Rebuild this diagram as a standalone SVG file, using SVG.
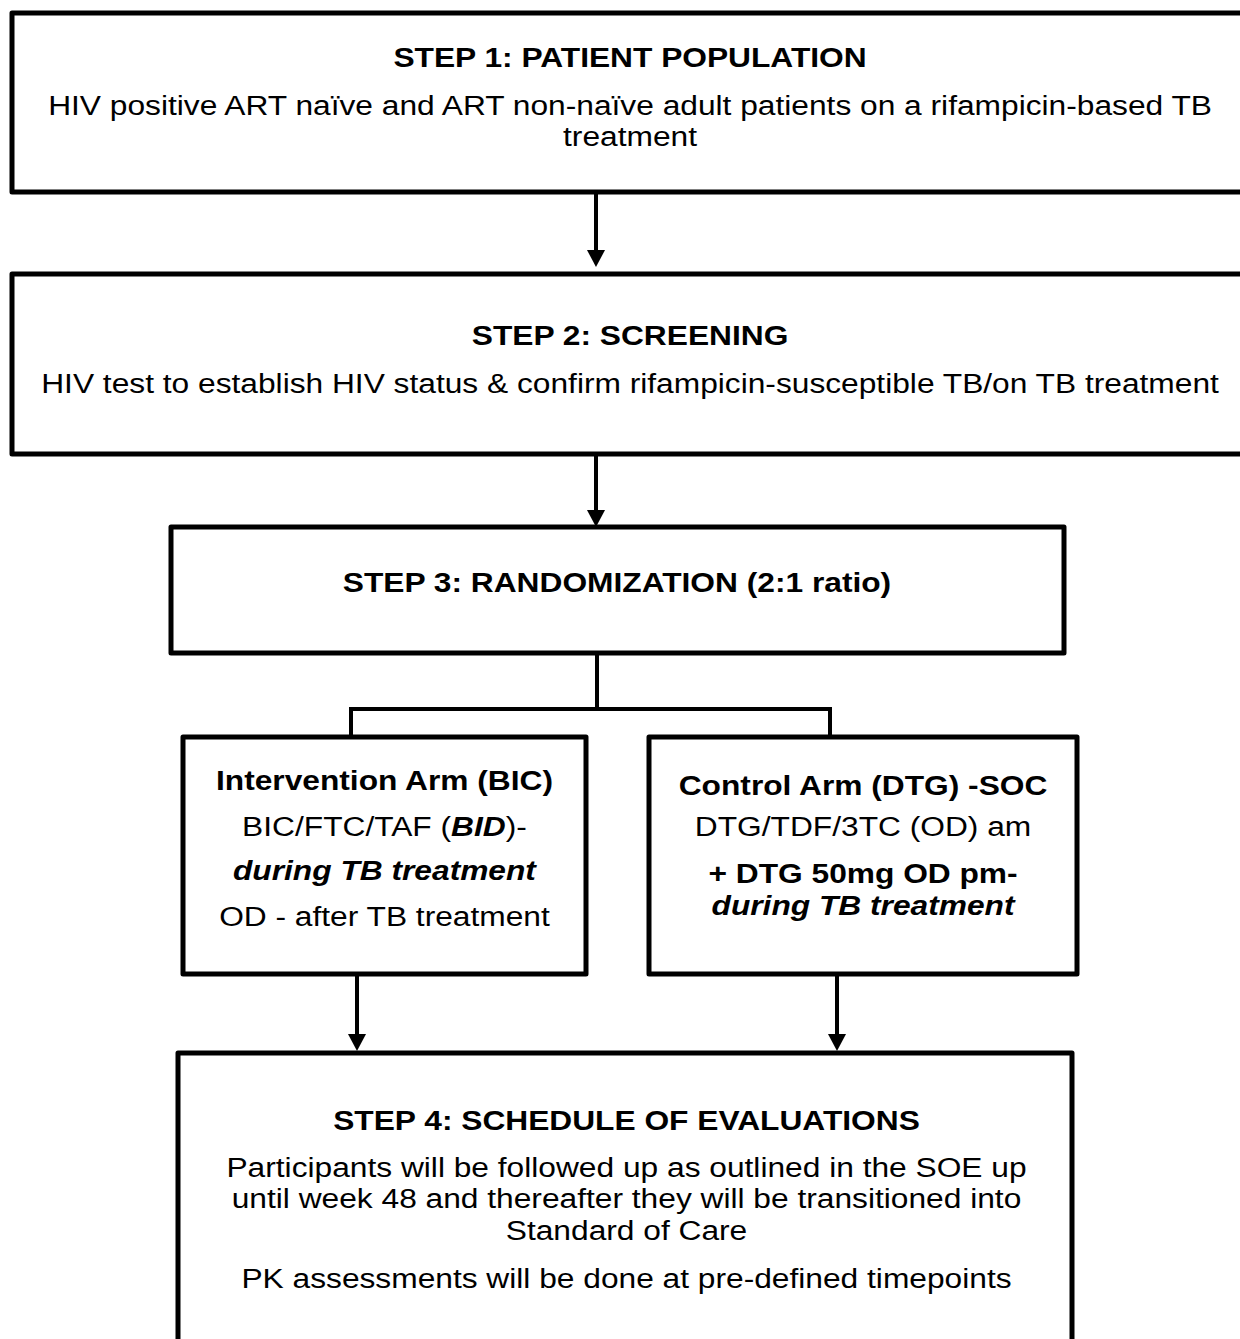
<svg xmlns="http://www.w3.org/2000/svg" width="1240" height="1339" viewBox="0 0 1240 1339">
<defs>
<style>
.box{fill:#fff;stroke:#000;stroke-width:5;stroke-linejoin:round}
.conn{fill:none;stroke:#000;stroke-width:4}
.ah{fill:#000}
text{font-family:"Liberation Sans",Arial,sans-serif;font-size:27px;fill:#000;text-anchor:middle}
.b{font-weight:bold}
.bi{font-weight:bold;font-style:italic}
</style>
</defs>
<rect width="1240" height="1339" fill="#fff"/>
<g id="connectors">
<line class="conn" x1="596" y1="192" x2="596" y2="252"/>
<polygon class="ah" points="587,250 605,250 596,267"/>
<line class="conn" x1="596" y1="454" x2="596" y2="512"/>
<polygon class="ah" points="587,510 605,510 596,527"/>
<polyline class="conn" points="597,653 597,709"/>
<polyline class="conn" points="351,737 351,709 830,709 830,737"/>
<line class="conn" x1="357" y1="974" x2="357" y2="1036"/>
<polygon class="ah" points="348,1034 366,1034 357,1051"/>
<line class="conn" x1="837" y1="974" x2="837" y2="1036"/>
<polygon class="ah" points="828,1034 846,1034 837,1051"/>
</g>
<g id="step1">
<rect class="box" x="12" y="13" width="1240" height="179"/>
<g transform="scale(1.175 1)">
<text class="b" x="536.2" y="67">STEP 1: PATIENT POPULATION</text>
<text x="536.2" y="115">HIV positive ART naïve and ART non-naïve adult patients on a rifampicin-based TB</text>
<text x="536.2" y="146">treatment</text>
</g>
</g>
<g id="step2">
<rect class="box" x="12" y="274" width="1240" height="180"/>
<g transform="scale(1.175 1)">
<text class="b" x="536.2" y="345">STEP 2: SCREENING</text>
<text x="536.2" y="393">HIV test to establish HIV status &amp; confirm rifampicin-susceptible TB/on TB treatment</text>
</g>
</g>
<g id="step3">
<rect class="box" x="171" y="527" width="893" height="126"/>
<g transform="scale(1.175 1)">
<text class="b" x="525.1" y="592">STEP 3: RANDOMIZATION (2:1 ratio)</text>
</g>
</g>
<g id="intervention">
<rect class="box" x="183" y="737" width="403" height="237"/>
<g transform="scale(1.175 1)">
<text class="b" x="327.2" y="790">Intervention Arm (BIC)</text>
<text x="327.2" y="836">BIC/FTC/TAF (<tspan class="bi">BID</tspan>)-</text>
<text class="bi" x="327.2" y="880">during TB treatment</text>
<text x="327.2" y="926">OD - after TB treatment</text>
</g>
</g>
<g id="control">
<rect class="box" x="649" y="737" width="428" height="237"/>
<g transform="scale(1.175 1)">
<text class="b" x="734.5" y="795">Control Arm (DTG) -SOC</text>
<text x="734.5" y="836">DTG/TDF/3TC (OD) am</text>
<text class="b" x="734.5" y="883">+ DTG 50mg OD pm-</text>
<text class="bi" x="734.5" y="915">during TB treatment</text>
</g>
</g>
<g id="step4">
<rect class="box" x="178" y="1053" width="894" height="300"/>
<g transform="scale(1.175 1)">
<text class="b" x="533.2" y="1130">STEP 4: SCHEDULE OF EVALUATIONS</text>
<text x="533.2" y="1177">Participants will be followed up as outlined in the SOE up</text>
<text x="533.2" y="1208">until week 48 and thereafter they will be transitioned into</text>
<text x="533.2" y="1240">Standard of Care</text>
<text x="533.2" y="1288">PK assessments will be done at pre-defined timepoints</text>
</g>
</g>
</svg>
